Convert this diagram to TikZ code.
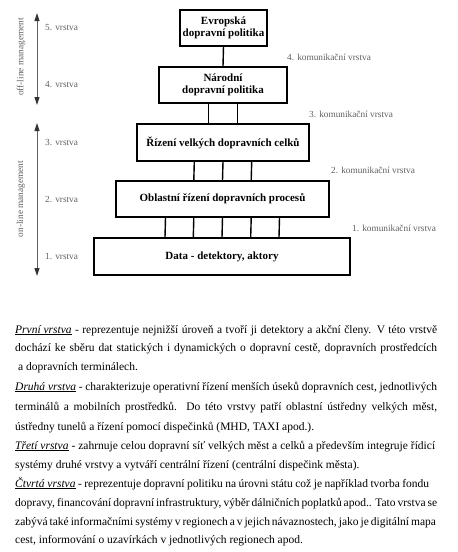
\documentclass[tikz,border=0pt]{standalone}
\usepackage{fontspec}
\setmainfont{Liberation Serif}
\usetikzlibrary{arrows.meta}
\definecolor{lblgray}{RGB}{95,95,95}
\newcommand\jline[2]{\makebox[#1pt][s]{#2}}
\begin{document}
\begin{tikzpicture}[x=1pt,y=-1pt,
  layerbox/.style={draw=black,line width=1.4pt,inner sep=1pt,align=center,
    font=\fontsize{11}{12.5}\selectfont\bfseries,minimum height=36pt},
  link/.style={draw=black,line width=1.4pt},
  lbl/.style={text=lblgray,font=\fontsize{9.3}{11}\selectfont,inner sep=0pt,anchor=west},
  side/.style={draw=lblgray,line width=1pt,{Triangle[length=8pt,width=5pt,color=black!80]}-{Triangle[length=8pt,width=5pt,color=black!80]}},
  rot/.style={text=lblgray,font=\fontsize{9.3}{11}\selectfont,inner sep=0pt,rotate=90},
  body/.style={font=\fontsize{11.5}{14}\selectfont,inner sep=0pt,anchor=base west}]
\useasboundingbox (0,0) rectangle (458,552);
% boxes
\node[layerbox,minimum width=87pt] (b5) at (223.5,28) {Evropská\\dopravní politika};
\node[layerbox,minimum width=128pt] (b4) at (223,85) {Národní\\dopravní politika};
\node[layerbox,minimum width=172pt,minimum height=37pt] (b3) at (223,142.5) {Řízení velkých dopravních celků};
\node[layerbox,minimum width=213pt] (b2) at (222.5,199) {Oblastní řízení dopravních procesů};
\node[layerbox,minimum width=256pt,minimum height=37pt] (b1) at (222,256.5) {Data - detektory, aktory};
% connectors
\draw[link] (b5.south) -- (b4.north);
\foreach \dx in {-14.3,14.3}
  \draw[link] ([xshift=\dx pt]b4.south) -- ([xshift=\dx pt]b3.north);
\foreach \dx in {-28.7,0,28.7}
  \draw[link] ([xshift=\dx pt]b3.south) -- ([xshift=\dx pt]b2.north);
\foreach \dx in {-57,-28.7,0,28.7,57}
  \draw[link] ([xshift=\dx pt]b2.south) -- ([xshift=\dx pt]b1.north);
% layer labels
\node[lbl] (l5) at (45,28) {5. vrstva};
\node[lbl] (l4) at (45,85) {4. vrstva};
\node[lbl] (l3) at (45,142) {3. vrstva};
\node[lbl] (l2) at (45,199) {2. vrstva};
\node[lbl] (l1) at (45,256) {1. vrstva};
% communication labels
\node[lbl] (k4) at (287,57) {4. komunikační vrstva};
\node[lbl] (k3) at (309,114) {3. komunikační vrstva};
\node[lbl] (k2) at (331,170) {2. komunikační vrstva};
\node[lbl] (k1) at (352,228) {1. komunikační vrstva};
% side arrows
\coordinate (offT) at (37,13);
\coordinate (offB) at (37,105);
\coordinate (onT) at (37,123);
\coordinate (onB) at (37,276);
\draw[side] (offT) -- (offB);
\draw[side] (onT) -- (onB);
\node[rot] (offl) at (21,57) {off-line management};
\node[rot] (onl) at (21,199) {on-line management};
% body text
\node[body] (t1) at (15,333) {\jline{422}{\underline{\textit{První vrstva}} - reprezentuje nejnižší úroveň a tvoří ji detektory a akční členy. V této vrstvě}};
\node[body] (t2) at (15,351) {\jline{422}{dochází ke sběru dat statických i dynamických o dopravní cestě, dopravních prostředcích}};
\node[body] (t3) at (18,370) {a dopravních terminálech.};
\node[body] (t4) at (15,390) {\jline{422}{\underline{\textit{Druhá vrstva}} - charakterizuje operativní řízení menších úseků dopravních cest, jednotlivých}};
\node[body] (t5) at (15,410) {\jline{422}{terminálů a mobilních prostředků. Do této vrstvy patří oblastní ústředny velkých měst,}};
\node[body] (t6) at (15,430) {ústředny tunelů a řízení pomocí dispečinků (MHD, TAXI apod.).};
\node[body] (t7) at (15,449) {\jline{420}{\underline{\textit{Třetí vrstva}} - zahrnuje celou dopravní síť velkých měst a celků a především integruje řídicí}};
\node[body] (t8) at (15,468) {systémy druhé vrstvy a vytváří centrální řízení (centrální dispečink města).};
\node[body] (t9) at (15,487) {\jline{414}{\underline{\textit{Čtvrtá vrstva}} - reprezentuje dopravní politiku na úrovni státu což je například tvorba fondu}};
\node[body] (t10) at (15,506) {\jline{417}{dopravy, financování dopravní infrastruktury, výběr dálničních poplatků apod.. Tato vrstva se}};
\node[body] (t11) at (15,525) {\jline{418}{zabývá také informačními systémy v regionech a v jejich návaznostech, jako je digitální mapa}};
\node[body] (t12) at (15,543) {cest, informování o uzavírkách v jednotlivých regionech apod.};
\end{tikzpicture}
\end{document}
